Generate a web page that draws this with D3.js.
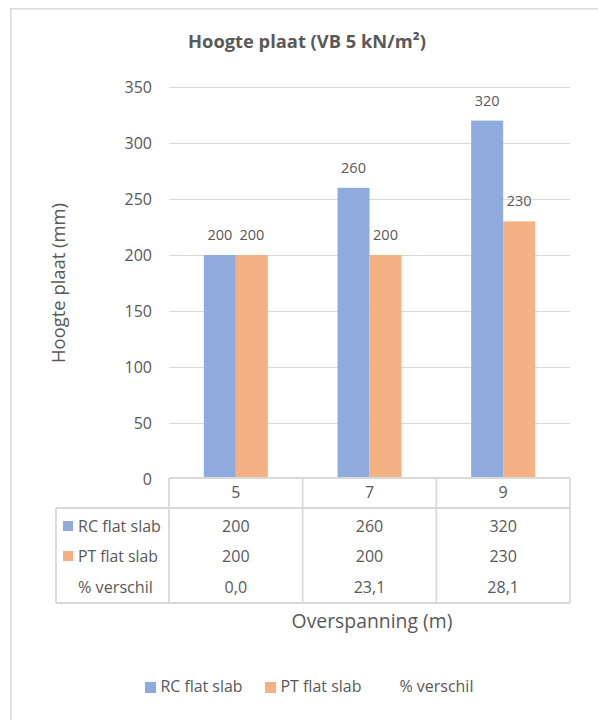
<!DOCTYPE html>
<html><head><meta charset="utf-8">
<script src="https://cdn.jsdelivr.net/npm/d3@7"></script>
<style>body{margin:0;background:#fff}svg{display:block}text{font-family:"Open Sans","Noto Sans",sans-serif;fill:#595959}</style>
</head><body><svg id="c" width="598" height="720"></svg>
<script>
const categories = ["5", "7", "9"];
const rcValues = [200, 260, 320];
const ptValues = [200, 200, 230];
const pctValues = [0.0, 23.1, 28.1];
const seriesNames = ["RC flat slab", "PT flat slab", "% verschil"];
const yTicks = [0, 50, 100, 150, 200, 250, 300, 350];
const colors = ["#8faadc", "#f4b183"];

(function () {
const svg = d3.select("#c");
// fit a text element's font size so its width matches a target width
function fit(sel, w) {
  const n = sel.node();
  const fs = parseFloat(sel.attr("font-size"));
  const len = n.getComputedTextLength();
  if (len > 0) sel.attr("font-size", (fs * w / len).toFixed(2));
  return sel;
}

svg.append("rect").attr("x", 10.75).attr("y", 8.75).attr("width", 620).attr("height", 740)
  .attr("fill", "#fff").attr("stroke", "#d9d9d9").attr("stroke-width", 1.5);

const pL = 169, pR = 570, pT = 87, pB = 479;
const x = d3.scaleBand().domain(categories).range([pL, pR]);
const y = d3.scaleLinear().domain([0, 350]).range([pB, pT]);
const barW = 32;

svg.append("g").selectAll("line").data(yTicks.filter(d => d > 0)).join("line")
  .attr("x1", pL).attr("x2", pR).attr("y1", d => Math.round(y(d)) + 0.5).attr("y2", d => Math.round(y(d)) + 0.5)
  .attr("stroke", "#d9d9d9").attr("stroke-width", 1.2);

const yAxis = svg.append("g").attr("transform", `translate(${pL},0)`)
  .call(d3.axisLeft(y).tickValues(yTicks).tickSize(0).tickPadding(17));
yAxis.select(".domain").remove();
yAxis.selectAll("text").attr("font-size", 16).attr("fill", "#595959")
  .style("font-family", '"Open Sans","Noto Sans",sans-serif');

const series = [rcValues, ptValues];
series.forEach((vals, si) => {
  const g = svg.append("g");
  g.selectAll("rect").data(vals).join("rect")
    .attr("x", (d, i) => x(categories[i]) + x.bandwidth() / 2 - barW + si * barW)
    .attr("y", d => y(d)).attr("width", barW).attr("height", d => y(0) - y(d))
    .attr("fill", colors[si]);
  g.selectAll("text").data(vals).join("text")
    .attr("x", (d, i) => x(categories[i]) + x.bandwidth() / 2 - barW / 2 + si * barW)
    .attr("y", d => y(d) - 15).attr("text-anchor", "middle").attr("font-size", 14.5).text(d => d);
});

// data table
const tLeft = 56, hTop = 478, hBot = 508, tBottom = 603;
const tg = svg.append("g").attr("stroke", "#d9d9d9").attr("stroke-width", 1.8).attr("fill", "none");
tg.append("line").attr("x1", pL).attr("x2", pR).attr("y1", hTop).attr("y2", hTop);
tg.append("line").attr("x1", tLeft).attr("x2", pR).attr("y1", hBot).attr("y2", hBot);
tg.append("line").attr("x1", tLeft).attr("x2", pR).attr("y1", tBottom).attr("y2", tBottom);
tg.append("line").attr("x1", tLeft).attr("x2", tLeft).attr("y1", hBot).attr("y2", tBottom);
[pL, ...categories.map(c => x(c) + x.bandwidth())].forEach(xx => {
  tg.append("line").attr("x1", xx).attr("x2", xx).attr("y1", hTop).attr("y2", tBottom);
});

svg.append("g").selectAll("text").data(categories).join("text")
  .attr("x", d => x(d) + x.bandwidth() / 2).attr("y", 498).attr("text-anchor", "middle")
  .attr("font-size", 16).text(d => d);

const rows = [rcValues.map(String), ptValues.map(String), pctValues.map(d => d.toFixed(1).replace(".", ","))];
const rowY = [532, 562, 593];
rows.forEach((r, ri) => {
  svg.append("g").selectAll("text").data(r).join("text")
    .attr("x", (d, i) => x(categories[i]) + x.bandwidth() / 2).attr("y", rowY[ri])
    .attr("text-anchor", "middle").attr("font-size", 16).text(d => d);
});
[0, 1].forEach(i => {
  svg.append("rect").attr("x", 63).attr("y", rowY[i] - 11).attr("width", 10).attr("height", 10).attr("fill", colors[i]);
  fit(svg.append("text").attr("x", 78).attr("y", rowY[i]).attr("font-size", 16).text(seriesNames[i]), i === 0 ? 83 : 80);
});
fit(svg.append("text").attr("x", 78).attr("y", rowY[2]).attr("font-size", 16).text(seriesNames[2]), 75);

// titles
fit(svg.append("text").attr("x", 307).attr("y", 48).attr("text-anchor", "middle")
  .attr("font-size", 16).attr("font-weight", "bold").text("Hoogte plaat (VB 5 kN/m²)"), 238);
fit(svg.append("text").attr("transform", "translate(65,283) rotate(-90)").attr("text-anchor", "middle")
  .attr("font-size", 18).text("Hoogte plaat (mm)"), 160);
fit(svg.append("text").attr("x", 372).attr("y", 628).attr("text-anchor", "middle")
  .attr("font-size", 18).text("Overspanning (m)"), 161);

// bottom legend
const lg = svg.append("g");
const lItems = [{x: 145, c: colors[0], t: seriesNames[0], w: 82}, {x: 265, c: colors[1], t: seriesNames[1], w: 81}, {x: 384, c: null, t: seriesNames[2], w: 74}];
lItems.forEach(it => {
  if (it.c) lg.append("rect").attr("x", it.x).attr("y", 682).attr("width", 11).attr("height", 11).attr("fill", it.c);
  fit(lg.append("text").attr("x", it.x + 15.5).attr("y", 692).attr("font-size", 16).text(it.t), it.w);
});
})();
</script></body></html>
